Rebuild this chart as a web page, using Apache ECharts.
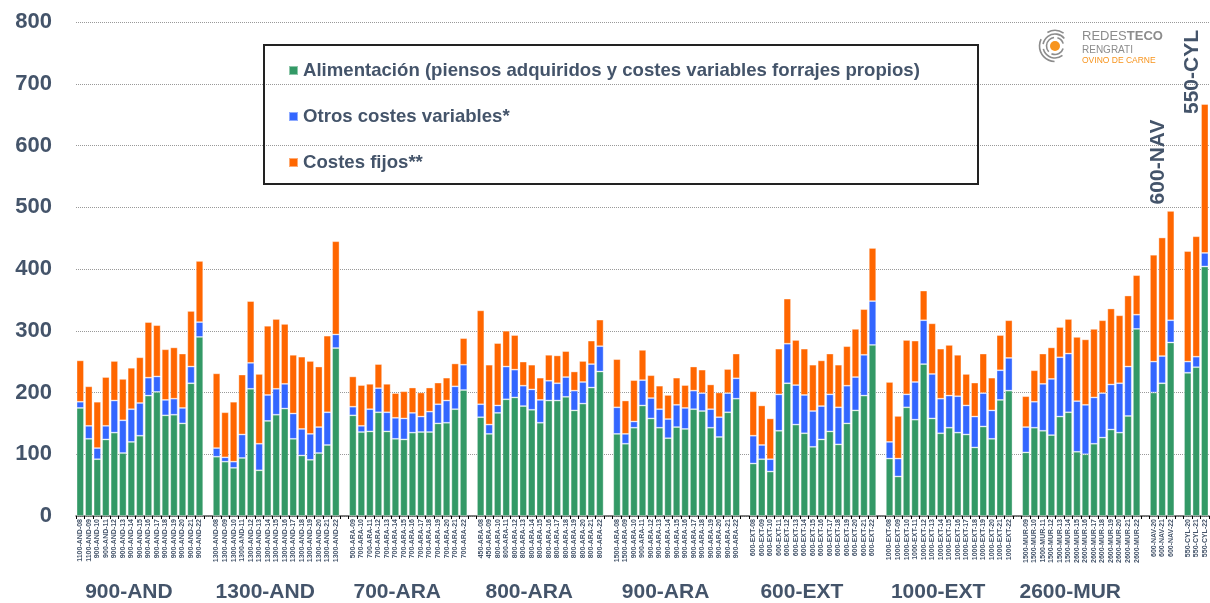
<!DOCTYPE html>
<html>
<head>
<meta charset="utf-8">
<script src="https://cdn.jsdelivr.net/npm/echarts@6/dist/echarts.min.js"></script>
<style>
  html, body { margin: 0; padding: 0; background: #fff; }
  #chart { width: 1210px; height: 603px; }
</style>
</head>
<body>
<div id="chart"></div>
<script>
// grupos y explotaciones
var groupNames = ['900-AND', '1300-AND', '700-ARA', '800-ARA', '900-ARA', '600-EXT', '1000-EXT', '2600-MUR', '600-NAV', '550-CYL'];
var groupSizes = [15, 15, 14, 15, 15, 15, 15, 14, 3, 3];

var barLabels = [
  '1100-AND-08', '1100-AND-09', '900-AND-10', '900-AND-11', '900-AND-12', '900-AND-13', '900-AND-14', '900-AND-15',
  '900-AND-16', '900-AND-17', '900-AND-18', '900-AND-19', '900-AND-20', '900-AND-21', '900-AND-22',
  '1300-AND-08', '1300-AND-09', '1300-AND-10', '1300-AND-11', '1300-AND-12', '1300-AND-13', '1300-AND-14', '1300-AND-15',
  '1300-AND-16', '1300-AND-17', '1300-AND-18', '1300-AND-19', '1300-AND-20', '1300-AND-21', '1300-AND-22',
  '500-ARA-09', '700-ARA-10', '700-ARA-11', '700-ARA-12', '700-ARA-13', '700-ARA-14', '700-ARA-15',
  '700-ARA-16', '700-ARA-17', '700-ARA-18', '700-ARA-19', '700-ARA-20', '700-ARA-21', '700-ARA-22',
  '450-ARA-08', '450-ARA-09', '800-ARA-10', '800-ARA-11', '800-ARA-12', '800-ARA-13', '800-ARA-14', '800-ARA-15',
  '800-ARA-16', '800-ARA-17', '800-ARA-18', '800-ARA-19', '800-ARA-20', '800-ARA-21', '800-ARA-22',
  '1500-ARA-08', '1500-ARA-09', '900-ARA-10', '900-ARA-11', '900-ARA-12', '900-ARA-13', '900-ARA-14', '900-ARA-15',
  '900-ARA-16', '900-ARA-17', '900-ARA-18', '900-ARA-19', '900-ARA-20', '900-ARA-21', '900-ARA-22',
  '600-EXT-08', '600-EXT-09', '600-EXT-10', '600-EXT-11', '600-EXT-12', '600-EXT-13', '600-EXT-14', '600-EXT-15',
  '600-EXT-16', '600-EXT-17', '600-EXT-18', '600-EXT-19', '600-EXT-20', '600-EXT-21', '600-EXT-22',
  '1000-EXT-08', '1000-EXT-09', '1000-EXT-10', '1000-EXT-11', '1000-EXT-12', '1000-EXT-13', '1000-EXT-14', '1000-EXT-15',
  '1000-EXT-16', '1000-EXT-17', '1000-EXT-18', '1000-EXT-19', '1000-EXT-20', '1000-EXT-21', '1000-EXT-22',
  '1500-MUR-09', '1500-MUR-10', '1500-MUR-11', '1500-MUR-12', '1500-MUR-13', '1500-MUR-14', '2600-MUR-15',
  '2600-MUR-16', '2600-MUR-17', '2600-MUR-18', '2600-MUR-19', '2600-MUR-20', '2600-MUR-21', '2600-MUR-22',
  '600-NAV-20', '600-NAV-21', '600-NAV-22',
  '550-CYL-20', '550-CYL-21', '550-CYL-22'
];

var alimentacion = [
  175, 125, 92, 124, 135, 102, 120, 130, 195, 201, 163, 164, 150, 215, 290,
  96, 88, 78, 94, 206, 74, 154, 164, 174, 125, 98, 91, 102, 115, 272,
  163, 136, 137, 168, 137, 125, 124, 135, 136, 136, 150, 151, 173, 204,
  160, 133, 167, 189, 192, 178, 172, 151, 187, 187, 193, 171, 182, 208, 234,
  133, 117, 143, 179, 158, 143, 126, 144, 141, 173, 170, 143, 128, 168, 190,
  85, 92, 72, 138, 215, 148, 134, 112, 124, 137, 116, 150, 171, 195, 277,
  93, 64, 176, 156, 246, 158, 134, 143, 135, 132, 111, 145, 125, 188, 203,
  103, 143, 138, 131, 161, 168, 104, 100, 117, 127, 140, 135, 162, 303,
  200, 215, 281,
  232, 241, 404
];

var otrosVariables = [
  10, 21, 18, 22, 52, 53, 53, 53, 29, 25, 25, 26, 25, 27, 24,
  14, 7, 10, 38, 42, 43, 42, 42, 40, 41, 43, 42, 42, 53, 22,
  14, 10, 36, 39, 31, 34, 34, 32, 25, 33, 31, 36, 37, 41,
  21, 15, 12, 53, 45, 33, 33, 37, 32, 28, 32, 32, 35, 38, 41,
  43, 16, 10, 41, 33, 30, 31, 36, 34, 30, 29, 30, 32, 31, 33,
  45, 23, 20, 59, 64, 64, 62, 58, 54, 60, 60, 61, 54, 66, 71,
  27, 29, 21, 61, 71, 72, 56, 52, 59, 47, 50, 54, 46, 48, 53,
  41, 42, 76, 91, 96, 95, 82, 80, 75, 72, 73, 80, 80, 23,
  50, 44, 36,
  18, 17, 22
];

var costesFijos = [
  67, 64, 75, 79, 64, 67, 67, 74, 90, 83, 82, 83, 88, 90, 99,
  121, 73, 97, 97, 100, 113, 112, 113, 97, 95, 117, 118, 98, 124, 151,
  49, 66, 41, 39, 46, 40, 44, 41, 39, 39, 35, 37, 37, 43,
  152, 97, 101, 58, 56, 39, 40, 36, 42, 45, 42, 31, 34, 38, 43,
  78, 54, 67, 49, 37, 38, 39, 44, 37, 39, 38, 40, 40, 39, 40,
  72, 64, 66, 74, 73, 73, 75, 75, 74, 66, 69, 64, 78, 74, 86,
  97, 69, 88, 67, 48, 82, 81, 82, 67, 51, 55, 64, 53, 57, 61,
  50, 51, 49, 51, 49, 56, 104, 106, 111, 118, 123, 110, 115, 64,
  173, 192, 177,
  179, 195, 241
];

var seriesNames = [
  'Alimentación (piensos adquiridos y costes variables forrajes propios)',
  'Otros costes variables*',
  'Costes fijos**'
];

// huecos entre grupos
var cats = [], ali = [], otros = [], fijos = [], groupRanges = [];
var k = 0;
groupSizes.forEach(function (n, g) {
  if (g > 0) {
    cats.push(''); ali.push('-'); otros.push('-'); fijos.push('-');
  }
  groupRanges.push([cats.length, cats.length + n - 1]);
  for (var i = 0; i < n; i++) {
    cats.push(barLabels[k]);
    ali.push(alimentacion[k]);
    otros.push(otrosVariables[k]);
    fijos.push(costesFijos[k]);
    k++;
  }
});

var font = 'Liberation Sans, Arial, sans-serif';
var textColor = '#44546a';

var chart = echarts.init(document.getElementById('chart'));

function barSeries (name, data, color) {
  return {
    name: name,
    type: 'bar',
    stack: 'total',
    barCategoryGap: '14%',
    data: data,
    itemStyle: { color: color, borderColor: 'rgba(255,255,255,0.45)', borderWidth: 0.8 }
  };
}

var option = {
  animation: false,
  backgroundColor: '#fff',
  textStyle: { fontFamily: font },
  grid: { left: 76, right: 1, top: 22, bottom: 87, outerBoundsMode: 'none' },
  legend: {
    orient: 'vertical',
    left: 283,
    top: 55,
    itemWidth: 9,
    itemHeight: 9,
    itemGap: 25,
    icon: 'rect',
    data: seriesNames,
    textStyle: { fontSize: 18.6, fontWeight: 'bold', color: textColor, lineHeight: 21, fontFamily: font }
  },
  xAxis: {
    type: 'category',
    data: cats,
    axisLine: { lineStyle: { color: '#555', width: 1.5 } },
    axisTick: { show: true, interval: 0, length: 3, lineStyle: { color: '#000' } },
    axisLabel: { interval: 0, rotate: 90, fontSize: 7, fontWeight: 'bold', color: textColor, margin: 3, fontFamily: font }
  },
  yAxis: {
    type: 'value',
    min: 0,
    max: 800,
    interval: 100,
    axisLine: { show: false },
    axisTick: { show: false },
    axisLabel: { fontSize: 22, fontWeight: 'bold', color: textColor, margin: 24, fontFamily: font },
    splitLine: { lineStyle: { type: 'dotted', color: '#999', width: 1 } }
  },
  series: [
    barSeries(seriesNames[0], ali, '#339966'),
    barSeries(seriesNames[1], otros, '#3366ff'),
    barSeries(seriesNames[2], fijos, '#ff6600')
  ]
};
chart.setOption(option);

// etiquetas de grupo
function centerX (r) {
  var a = chart.convertToPixel({ xAxisIndex: 0 }, r[0]);
  var b = chart.convertToPixel({ xAxisIndex: 0 }, r[1]);
  return (a + b) / 2;
}

var graphics = [
  {
    type: 'rect',
    shape: { x: 264, y: 45, width: 714, height: 139 },
    style: { fill: 'rgba(255,255,255,0)', stroke: '#222', lineWidth: 2 },
    z: 1
  }
];

groupNames.forEach(function (name, g) {
  var cx = centerX(groupRanges[g]);
  if (g < 8) {
    graphics.push({
      type: 'text',
      x: cx - 11,
      y: 592,
      style: { text: name, font: 'bold 21px ' + font, fill: textColor, align: 'center', verticalAlign: 'middle' }
    });
  } else {
    graphics.push({
      type: 'text',
      x: cx - 4,
      y: g === 8 ? 162 : 72,
      rotation: Math.PI / 2,
      style: { text: name, font: 'bold 21px ' + font, fill: textColor, align: 'center', verticalAlign: 'middle' }
    });
  }
});

// logo
var gray = '#8c8c8c', orange = '#f7941d';
graphics.push({ type: 'circle', shape: { cx: 1055, cy: 46, r: 5 }, style: { fill: orange } });
[[8.5, [0.3, 2.0], [2.4, 4.6], [5.0, 6.0]], [12, [0.9, 2.9], [3.3, 5.6]], [15.5, [1.6, 3.6], [4.2, 5.3]]].forEach(function (ring) {
  for (var i = 1; i < ring.length; i++) {
    graphics.push({
      type: 'arc',
      shape: { cx: 1055, cy: 46, r: ring[0], startAngle: ring[i][0], endAngle: ring[i][1] },
      style: { stroke: gray, lineWidth: 1.6, fill: null }
    });
  }
});
graphics.push({
  type: 'text', x: 1082, y: 36,
  style: {
    text: '{a|REDES}{b|TECO}',
    rich: {
      a: { fontSize: 13, fontFamily: font, fill: gray },
      b: { fontSize: 13, fontFamily: font, fontWeight: 'bold', fill: gray }
    },
    verticalAlign: 'middle'
  }
});
graphics.push({ type: 'text', x: 1082, y: 50, style: { text: 'RENGRATI', font: '10px ' + font, fill: gray, verticalAlign: 'middle' } });
graphics.push({ type: 'text', x: 1082, y: 61, style: { text: 'OVINO DE CARNE', font: '8.5px ' + font, fill: orange, verticalAlign: 'middle' } });

chart.setOption({ graphic: graphics });
</script>
</body>
</html>
